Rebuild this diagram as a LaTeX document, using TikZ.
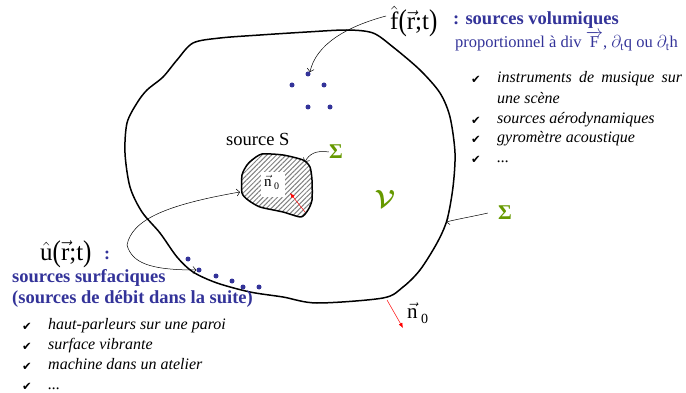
\documentclass[tikz,border=0pt]{standalone}
\usepackage{amsmath}
\usepackage{fontspec}
\setmainfont{Liberation Serif}
\newfontfamily\dejavu{DejaVu Sans}
\usetikzlibrary{arrows.meta,patterns.meta}
\definecolor{cblue}{HTML}{333399}
\definecolor{cgreen}{HTML}{669900}
\newcommand{\fs}[1]{\fontsize{#1}{#1}\selectfont}
\newcommand{\chk}{{\dejavu\fs{11.5}✔}}
\newcommand{\tparen}[1]{\raisebox{-1pt}{\scalebox{1}[1.2]{#1}}}
\tikzset{
  contour/.style={line width=1.5pt, line join=round},
  thinarrow/.style={line width=0.5pt, -{Straight Barb[length=3pt,width=7pt]}},
  redarrow/.style={red, line width=0.5pt, -{Latex[length=5pt,width=4pt]}},
  srcdot/.style={circle, fill=cblue, inner sep=0pt, minimum size=5pt},
  txt/.style={inner sep=0pt, anchor=base west},
  sigma/.style={inner sep=0pt, text=cgreen, font=\fs{21}\bfseries},
  item/.style={inner sep=0pt, anchor=base west, font=\fs{16}\itshape},
  ckm/.style={inner sep=0pt, anchor=base west}
}
\begin{document}
\begin{tikzpicture}[x=1pt,y=-1pt]
\useasboundingbox (0,0) rectangle (686,393);
% outer domain
\draw[contour] plot[smooth cycle, tension=0.5] coordinates {
  (193,43) (220,38) (260,35) (307,32) (347,30) (373,33) (393,47) (420,70)
  (440,93) (450,117) (455,153) (453,187) (447,220) (437,243) (420,270)
  (403,287) (383,298) (317,303) (283,297) (250,292) (217,283) (193,272)
  (177,257) (160,233) (142,212) (130,187) (125,153) (127,123) (137,103)
  (147,90) (163,77) (177,60)};
\coordinate (sigBtip) at (446,222);
\coordinate (nBfoot) at (387,300);
\coordinate (nBtip) at (403,328);
% source S blob
\path[pattern={Lines[angle=45,distance=3.4pt,line width=1pt]}, pattern color=gray]
  plot[smooth cycle, tension=0.4] coordinates {
  (247,165) (252,160) (262,154) (283,155) (303,160) (310,167) (312,180)
  (312,200) (308,210) (301,217) (283,212) (260,207) (248,200) (242,193)
  (242,175)};
\node[fill=white, minimum width=24pt, minimum height=25pt, inner sep=0pt] (n0box) at (273,185) {};
\node[txt, font=\fs{15}] (n0in) at (264,186) {$\vec{\text{n}}$\,\raisebox{-3pt}{\fs{10}0}};
\coordinate (nAfoot) at (305,212);
\coordinate (nAtip) at (290,193);
\draw[redarrow] (nAfoot) -- (nAtip);
\draw[contour] plot[smooth cycle, tension=0.4] coordinates {
  (247,165) (252,160) (262,154) (283,155) (303,160) (310,167) (312,180)
  (312,200) (308,210) (301,217) (283,212) (260,207) (248,200) (242,193)
  (242,175)};
\coordinate (Sleft) at (240,192);
\coordinate (sigAtip) at (305,162);
% labels
\node[txt, font=\fs{18.5}] (srcS) at (226,146) {source S};
\node[sigma] (sigA) at (336,152) {Σ};
\node[sigma] (sigB) at (505,213) {Σ};
\node[inner sep=0pt, text=cgreen, font=\fs{24}\boldmath] (vol) at (385,199) {$\mathcal{V}$};
\node[txt, font=\fs{21}] (nB) at (407,318) {$\vec{\text{n}}$\,\raisebox{-5pt}{\fs{14}0}};
\draw[redarrow] (nBfoot) -- (nBtip);
% volume sources
\node[srcdot] (v1) at (308,74) {};
\node[srcdot] (v2) at (292,85) {};
\node[srcdot] (v3) at (324,85) {};
\node[srcdot] (v4) at (308,107) {};
\node[srcdot] (v5) at (330,107) {};
% surface sources
\node[srcdot] (s1) at (188,259) {};
\node[srcdot] (s2) at (199,270) {};
\node[srcdot] (s3) at (216,276) {};
\node[srcdot] (s4) at (232,281) {};
\node[srcdot] (s5) at (243,287) {};
\node[srcdot] (s6) at (259,287) {};
% top right text
\node[txt, font=\fs{25}] (fhat) at (390,30) {$\hat{\text{f}}$\tparen{(}$\vec{\text{r}}$;t\tparen{)}};
\node[txt, font=\fs{18.5}\bfseries, text=cblue] (volT) at (453,25) {: sources volumiques};
\node[txt, font=\fs{16.5}, text=cblue] (prop) at (455,48) {proportionnel à div $\overrightarrow{\text{F}}$, $\partial_{\text{t}}$q ou $\partial_{\text{t}}$h};
\coordinate (fstart) at (386,16);
\draw[thinarrow] (fstart) .. controls (345,27) and (316,45) .. (v1.north east);
\draw[thinarrow] (sigA.west) .. controls (316,150) and (309,154) .. (sigAtip);
\draw[thinarrow] ([xshift=-10pt]sigB.west) .. controls (475,216) and (458,219) .. (sigBtip);
% right list
\node[ckm] (c1) at (471,84) {\chk};
\node[item] (r1) at (497,83) {\makebox[185pt][s]{instruments de musique sur}};
\node[item] (r2) at (497,104) {une scène};
\node[ckm] (c2) at (471,125) {\chk};
\node[item] (r3) at (497,124) {sources aérodynamiques};
\node[ckm] (c3) at (471,144) {\chk};
\node[item] (r4) at (497,143) {gyromètre acoustique};
\node[ckm] (c4) at (471,164) {\chk};
\node[item] (r5) at (497,163) {...};
% bottom left text
\node[txt, font=\fs{25}] (uhat) at (40,260) {$\hat{\text{u}}$\tparen{(}$\vec{\text{r}}$;t\tparen{)}};
\node[txt, font=\fs{18}\bfseries, text=cblue] (colon) at (104,259) {:};
\coordinate (ustart) at (127,245);
\draw[thinarrow] (ustart) .. controls (132,220) and (165,205) .. (Sleft);
\draw[thinarrow] (ustart) .. controls (132,263) and (150,270) .. (s2.west);
\node[txt, font=\fs{18.5}\bfseries, text=cblue] (surf1) at (12,282) {sources surfaciques};
\node[txt, font=\fs{18.5}\bfseries, text=cblue] (surf2) at (12,303) {(sources de débit dans la suite)};
\node[ckm] (d1) at (22,330) {\chk};
\node[item] (l1) at (48,329) {haut-parleurs sur une paroi};
\node[ckm] (d2) at (22,350) {\chk};
\node[item] (l2) at (48,349) {surface vibrante};
\node[ckm] (d3) at (22,370) {\chk};
\node[item] (l3) at (48,369) {machine dans un atelier};
\node[ckm] (d4) at (22,390) {\chk};
\node[item] (l4) at (48,389) {...};
\end{tikzpicture}
\end{document}
